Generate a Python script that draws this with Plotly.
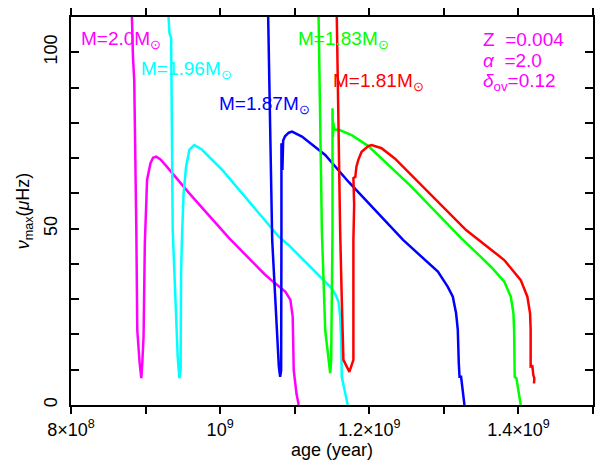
import plotly.graph_objects as go

# ---- data (age in years, nu_max in microHz) ----
age_m20 = [8.81e8, 8.817e8, 8.831e8, 8.840e8, 8.844e8, 8.848e8, 8.876e8, 8.889e8, 8.92e8, 8.943e8,
           8.956e8, 8.973e8, 8.99e8, 9.01e8, 9.02e8, 9.065e8, 9.10e8, 9.143e8, 9.20e8, 9.276e8,
           9.587e8, 1.012e9, 1.043e9, 1.06e9, 1.0697e9, 1.08e9, 1.0876e9, 1.0942e9, 1.0973e9,
           1.0987e9, 1.0995e9, 1.1023e9, 1.1053e9]
nu_m20 = [113, 110, 98.7, 94, 96, 92, 49.6, 21.2, 12, 7.6,
          11.9, 19.4, 45.8, 58, 63.8, 68.5, 70.1, 70.4, 69.6, 67.8,
          60, 47.3, 40.5, 37.0, 35.2, 33.5, 32.1, 29.8, 25,
          9.9, 8, 3.3, 0]

age_m196 = [9.30e8, 9.307e8, 9.32e8, 9.343e8, 9.364e8, 9.431e8, 9.453e8, 9.47e8, 9.476e8, 9.489e8,
            9.51e8, 9.543e8, 9.587e8, 9.653e8, 9.75e8, 1.0031e9, 1.0787e9, 1.092e9, 1.1497e9,
            1.155e9, 1.1587e9, 1.161e9, 1.1623e9, 1.1631e9, 1.1676e9, 1.1711e9]
nu_m196 = [113, 110, 105.5, 104, 49.6, 13.7, 7.6, 9.9, 37.3, 48,
           60, 67.5, 72.3, 73.7, 72.5, 66.6, 47.7, 45.3, 33.1,
           31.2, 29.3, 25, 18.4, 8, 3.4, 0]

age_m187 = [1.0642e9, 1.0644e9, 1.0698e9, 1.0787e9, 1.0805e9, 1.0818e9, 1.0822e9, 1.0822e9, 1.0835e9,
            1.0845e9, 1.0870e9, 1.0920e9, 1.0964e9, 1.1097e9, 1.1409e9, 1.172e9, 1.2453e9, 1.275e9,
            1.292e9, 1.3053e9, 1.3120e9, 1.3164e9, 1.3187e9, 1.3200e9, 1.321e9, 1.3231e9, 1.3276e9]
nu_m187 = [113, 110, 46.8, 10.9, 8, 9.9, 49.6, 74.2, 66.6,
           75, 76.2, 77.2, 77.5, 76.1, 70.9, 63.3, 46.8, 41.0,
           37.8, 33.5, 30.7, 26, 21.3, 12, 8, 8, 0]

age_m183 = [1.1318e9, 1.132e9, 1.1364e9, 1.1409e9, 1.1453e9, 1.1476e9, 1.1489e9, 1.1507e9, 1.1507e9,
            1.1512e9, 1.1518e9, 1.1533e9, 1.1587e9, 1.1764e9, 1.1898e9, 1.1987e9, 1.2564e9, 1.3231e9,
            1.345e9, 1.3631e9, 1.3809e9, 1.3898e9, 1.3933e9, 1.3942e9, 1.395e9, 1.3973e9, 1.4031e9]
nu_m183 = [113, 110, 49.6, 21.2, 12.8, 9, 12.8, 49.6, 84.1,
           76, 80, 78, 78.1, 76.5, 74.7, 73.4, 61.9, 47.3,
           42.9, 39.2, 35, 30.7, 26, 21.3, 8, 7.6, 0]

age_m181 = [1.1562e9, 1.1564e9, 1.1609e9, 1.1631e9, 1.1653e9, 1.1733e9, 1.1787e9, 1.1787e9, 1.1797e9,
            1.1787e9, 1.1813e9, 1.1827e9, 1.1853e9, 1.1897e9, 1.1987e9, 1.2031e9, 1.2164e9, 1.2342e9,
            1.2787e9, 1.3298e9, 1.36e9, 1.3809e9, 1.4031e9, 1.412e9, 1.4156e9, 1.4164e9, 1.4164e9,
            1.4187e9, 1.42e9, 1.4213e9, 1.4209e9]
nu_m181 = [113, 110, 49.6, 30, 12.8, 9.4, 12.8, 46.8, 56.7,
           64.3, 64.7, 67.5, 69.5, 71.8, 73.4, 73.7, 72.8, 69.9,
           60.5, 49.6, 44.6, 41.1, 35.4, 30.7, 26, 21.3, 10.9,
           11, 8.5, 7.6, 6.1]

series = [
    ("M=2.0M<sub>⊙</sub>", age_m20, nu_m20, "#ff00ff", 8.105e8, 103.5),
    ("M=1.96M<sub>⊙</sub>", age_m196, nu_m196, "#00ffff", 8.907e8, 95.0),
    ("M=1.87M<sub>⊙</sub>", age_m187, nu_m187, "#0000ff", 9.96e8, 85.0),
    ("M=1.83M<sub>⊙</sub>", age_m183, nu_m183, "#00ff00", 1.1013e9, 103.5),
    ("M=1.81M<sub>⊙</sub>", age_m181, nu_m181, "#ff0000", 1.1493e9, 91.7),
]

params = ["Z\u00a0\u00a0=0.004", "<i>α</i>\u00a0\u00a0=2.0", "<i>δ</i><sub>ov</sub>=0.12"]
params_y = [103.5, 97.8, 91.7]

x_tickvals = [8e8, 9e8, 1.0e9, 1.1e9, 1.2e9, 1.3e9, 1.4e9, 1.5e9]
x_ticktext = ["8×10<sup>8</sup>", "", "10<sup>9</sup>", "", "1.2×10<sup>9</sup>", "", "1.4×10<sup>9</sup>", ""]
y_tickvals = [0, 10, 20, 30, 40, 50, 60, 70, 80, 90, 100, 110]
y_ticktext = ["0", "", "", "", "", "50", "", "", "", "", "100", ""]

FONT = "Liberation Sans, Arial, sans-serif"

fig = go.Figure()
annotations = []
for name, ages, nus, color, lx, ly in series:
    fig.add_trace(go.Scatter(x=ages, y=nus, mode="lines", line=dict(color=color, width=2.5),
                             name=name, showlegend=False))
    annotations.append(dict(x=lx, y=ly, xref="x", yref="y", text=name, showarrow=False,
                            xanchor="left", yanchor="middle",
                            font=dict(color=color, size=19, family=FONT)))
for txt, py in zip(params, params_y):
    annotations.append(dict(x=1.3493e9, y=py, xref="x", yref="y", text=txt, showarrow=False,
                            xanchor="left", yanchor="middle",
                            font=dict(color="#ff00ff", size=19, family=FONT)))

fig.update_layout(
    width=598, height=461,
    margin=dict(l=71, r=3, t=17, b=56),
    paper_bgcolor="white", plot_bgcolor="white",
    font=dict(family=FONT, size=18, color="black"),
    annotations=annotations,
    xaxis=dict(range=[8e8, 1.5e9], tickvals=x_tickvals, ticktext=x_ticktext,
               ticks="outside", ticklen=7, tickwidth=1.5, tickcolor="black",
               showline=True, linecolor="black", linewidth=2, mirror="ticks",
               showgrid=False, zeroline=False,
               title=dict(text="age (year)", standoff=2, font=dict(size=18))),
    yaxis=dict(range=[0, 110], tickvals=y_tickvals, ticktext=y_ticktext,
               ticks="inside", ticklen=8, tickwidth=1.5, tickcolor="black",
               tickangle=-90, ticklabelstandoff=5,
               showline=True, linecolor="black", linewidth=2, mirror="ticks",
               showgrid=False, zeroline=False,
               title=dict(text="<i>ν</i><sub>max</sub>(<i>μ</i>Hz)", standoff=6, font=dict(size=18))),
)

fig.write_html("out.html")
